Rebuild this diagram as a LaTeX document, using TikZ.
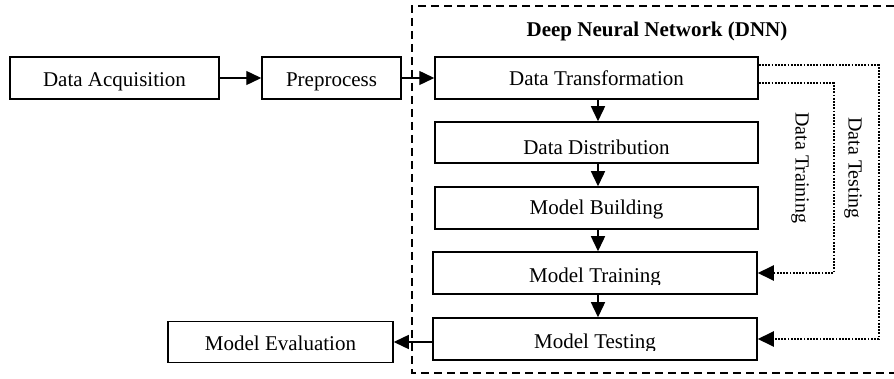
\documentclass[tikz,border=0pt]{standalone}
\usepackage{fontspec}
\setmainfont{Liberation Serif}
\usetikzlibrary{arrows.meta,calc}
\begin{document}
\begin{tikzpicture}[x=1pt,y=-1pt,
  box/.style={draw, line width=1.5pt, inner sep=0pt, minimum height=42pt},
  txt/.style={inner sep=0pt, anchor=base, font=\fontsize{21pt}{25pt}\selectfont},
  sidetxt/.style={inner sep=0pt, rotate=-90, font=\fontsize{20pt}{24pt}\selectfont},
  arr/.style={line width=1.4pt, -{Triangle[length=15pt,width=14pt]}},
  dotarr/.style={line width=2pt, dash pattern=on 1.8pt off 1.4pt, -{Triangle[length=16pt,width=15pt]}},
  frame/.style={line width=1.3pt, dash pattern=on 8pt off 5pt}]
\useasboundingbox (0,0) rectangle (894,379);
% dashed DNN frame
\draw[frame] (894,6) -- (412,6) -- (412,373) -- (894,373);
\node[inner sep=0pt, anchor=base, font=\fontsize{21pt}{25pt}\selectfont\bfseries] (title) at (657,37) {Deep Neural Network (DNN)};
% boxes
\node[box, minimum width=209pt] (da) at (114.5,78) {};
\node[box, minimum width=139pt] (pp) at (331.5,78) {};
\node[box, minimum width=323pt] (dt) at (596.5,78) {};
\node[box, minimum width=323pt, minimum height=41pt] (dd) at (596.5,142.5) {};
\node[box, minimum width=323pt] (mb) at (596.5,208) {};
\node[box, minimum width=324pt] (mtr) at (595,273) {};
\node[box, minimum width=324pt] (mte) at (595,339) {};
\node[box, minimum width=225pt, minimum height=41pt] (me) at (280.5,342) {};
% texts
\node[txt] (tda) at (114.5,87) {Data Acquisition};
\node[txt] (tpp) at (331.5,87) {Preprocess};
\node[txt] (tdt) at (596.5,86) {Data Transformation};
\node[txt] (tdd) at (596.5,155) {Data Distribution};
\node[txt] (tme) at (280.5,350) {Model Evaluation};
\begin{scope}
  \clip (435,187) rectangle (758,219);
  \node[txt] (tmb) at (596.5,215) {Model Building};
\end{scope}
\begin{scope}
  \clip (433,252) rectangle (757,285);
  \node[txt] (tmtr) at (595,283) {Model Training};
\end{scope}
\begin{scope}
  \clip (433,318) rectangle (757,350);
  \node[txt] (tmte) at (595,348) {Model Testing};
\end{scope}
% main arrows
\draw[arr] (da.east) -- (pp.west);
\draw[arr] (pp.east) -- (dt.west);
\draw[arr] ([xshift=1.5pt]dt.south) -- ([xshift=1.5pt]dd.north);
\draw[arr] ([xshift=1.5pt]dd.south) -- ([xshift=1.5pt]mb.north);
\draw[arr] ([xshift=1.5pt]mb.south) -- ([xshift=1.5pt]mb.south |- mtr.north);
\draw[arr] ([xshift=3pt]mtr.south) -- ([xshift=3pt]mte.north);
\draw[arr] (me.east -| mte.west) -- (me.east);
% dotted feedback
\draw[dotarr] ([yshift=-27pt]dt.north east) -- ++(75,0) |- (mtr.east);
\draw[dotarr] ([yshift=-9pt]dt.north east) -- ++(120,0) |- (mte.east);
\node[sidetxt] (ltr) at (800,168) {Data Training};
\node[sidetxt] (lte) at (853,168) {Data Testing};
\end{tikzpicture}
\end{document}
